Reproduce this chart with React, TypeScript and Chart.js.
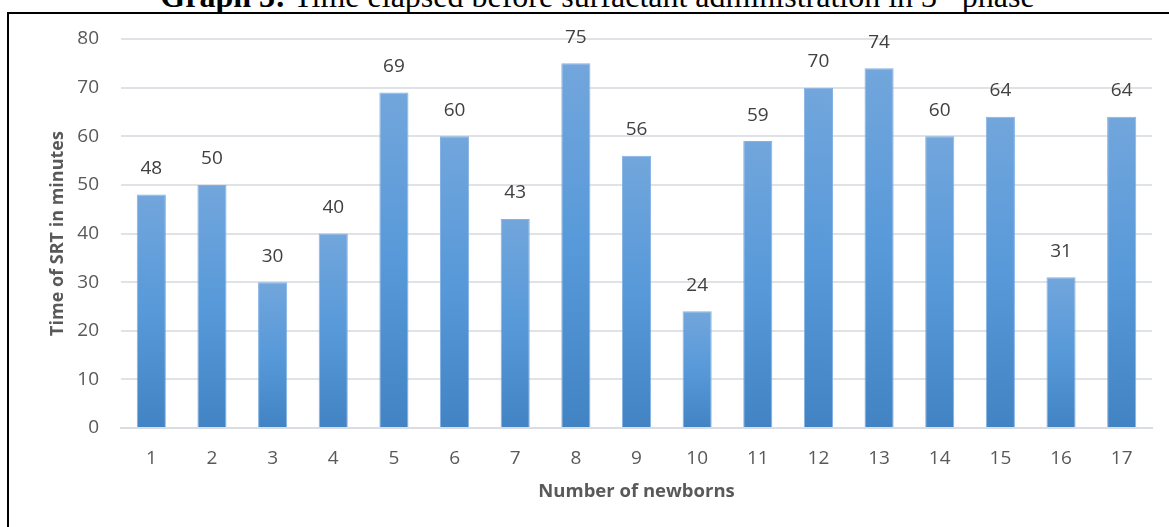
import React, { useEffect, useRef } from "react";
import { Chart, registerables } from "chart.js";

Chart.register(...registerables);

const categories = ["1", "2", "3", "4", "5", "6", "7", "8", "9", "10", "11", "12", "13", "14", "15", "16", "17"];
const srtMinutes = [48, 50, 30, 40, 69, 60, 43, 75, 56, 24, 59, 70, 74, 60, 64, 31, 64];
const yTickValues = [0, 10, 20, 30, 40, 50, 60, 70, 80];
const yAxisTitle = "Time of SRT in minutes";
const xAxisTitle = "Number of newborns";

const FONT = "'Open Sans', 'Noto Sans', sans-serif";

const dataLabelPlugin = {
  id: "dataLabels",
  afterDatasetsDraw(chart: any) {
    const { ctx } = chart;
    const meta = chart.getDatasetMeta(0);
    const values = chart.data.datasets[0].data as number[];
    ctx.save();
    ctx.font = `19px ${FONT}`;
    ctx.fillStyle = "#404040";
    ctx.textAlign = "center";
    ctx.textBaseline = "middle";
    meta.data.forEach((el: any, i: number) => {
      ctx.fillText(String(values[i]), el.x, el.y - 26);
    });
    ctx.restore();
  },
};

export default function App() {
  const canvasRef = useRef<HTMLCanvasElement | null>(null);

  useEffect(() => {
    if (!canvasRef.current) return;
    const chart = new Chart(canvasRef.current, {
      type: "bar",
      data: {
        labels: categories,
        datasets: [
          {
            data: srtMinutes,
            backgroundColor: (ctx: any) => {
              const c = ctx.chart;
              const y = c.scales && c.scales.y;
              if (!y || ctx.raw == null) return "#5b9bd5";
              const top = y.getPixelForValue(ctx.raw);
              const base = y.getPixelForValue(0);
              if (!isFinite(top) || !isFinite(base) || top === base) return "#5b9bd5";
              const g = c.ctx.createLinearGradient(0, top, 0, base);
              g.addColorStop(0, "#72a6dc");
              g.addColorStop(0.5, "#5799d9");
              g.addColorStop(1, "#4283c4");
              return g;
            },
            borderColor: "rgba(120,170,225,0.9)",
            borderWidth: 1,
            barPercentage: 0.48,
            categoryPercentage: 1,
          },
        ],
      },
      options: {
        animation: false,
        responsive: true,
        maintainAspectRatio: false,
        layout: { padding: { top: 39, right: 17, left: 0, bottom: 0 } },
        plugins: {
          legend: { display: false },
          tooltip: { enabled: false },
          title: { display: false },
        },
        scales: {
          x: {
            grid: { display: false, drawTicks: false },
            border: { display: true, color: "#d9dde3", width: 2 },
            ticks: {
              color: "#595959",
              font: { family: FONT, size: 19 },
              padding: 19,
              maxRotation: 0,
            },
            title: {
              display: true,
              text: xAxisTitle,
              color: "#595959",
              font: { family: FONT, size: 18.5, weight: "bold" },
              padding: { top: 0, bottom: 24 },
            },
            afterFit: (scale: any) => {
              scale.height = 99;
            },
          },
          y: {
            min: 0,
            max: 80,
            afterBuildTicks: (scale: any) => {
              scale.ticks = yTickValues.map((v) => ({ value: v }));
            },
            grid: { color: "#dfe3e8", lineWidth: 2, drawTicks: false },
            border: { display: false },
            ticks: {
              color: "#595959",
              font: { family: FONT, size: 19 },
              padding: 22,
            },
            title: {
              display: true,
              text: yAxisTitle,
              color: "#595959",
              font: { family: FONT, size: 18, weight: "bold" },
              padding: { top: 47, bottom: 0 },
            },
            afterFit: (scale: any) => {
              scale.width = 121;
            },
          },
        },
      },
      plugins: [dataLabelPlugin],
    });
    return () => chart.destroy();
  }, []);

  return (
    <div
      style={{
        position: "fixed",
        left: 0,
        top: 0,
        width: 1169,
        height: 527,
        overflow: "hidden",
        background: "#ffffff",
      }}
    >
      <div
        style={{
          position: "absolute",
          left: 160,
          top: -20,
          width: 875,
          textAlign: "center",
          fontFamily: "'Liberation Serif', 'Times New Roman', serif",
          fontSize: 32,
          lineHeight: "32px",
          whiteSpace: "nowrap",
          color: "#000",
        }}
      >
        <b>Graph 3:</b> Time elapsed before surfactant administration in 3<sup style={{ fontSize: 20, lineHeight: 0 }}>rd</sup> phase
      </div>
      <div
        style={{
          position: "absolute",
          left: 7,
          top: 12,
          width: 1300,
          height: 700,
          border: "2.5px solid #000",
          boxSizing: "border-box",
        }}
      />
      <div style={{ position: "absolute", left: 0, top: 0, width: 1169, height: 527 }}>
        <canvas ref={canvasRef} />
      </div>
    </div>
  );
}
